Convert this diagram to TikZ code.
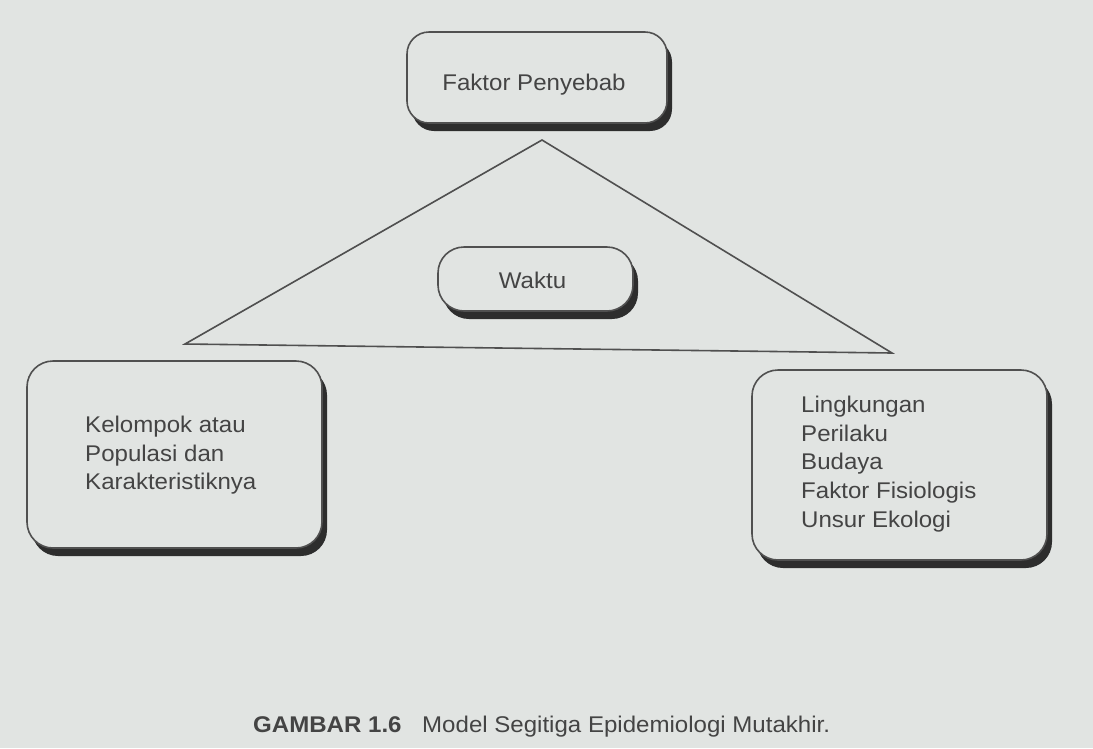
\documentclass[tikz,border=0pt]{standalone}
\usepackage{fontspec}
\setmainfont{Liberation Sans}[FakeStretch=1.06]
\usetikzlibrary{shadows}
\definecolor{bg}{RGB}{225,228,226}
\definecolor{ink}{RGB}{68,68,68}
\definecolor{shade}{RGB}{45,45,45}
\definecolor{edge}{RGB}{80,80,80}
\begin{document}
\begin{tikzpicture}[x=1pt,y=-1pt,
  box/.style={draw=edge, line width=1.6pt, fill=bg, rounded corners=22pt,
    drop shadow={shadow xshift=5pt, shadow yshift=-8pt, fill=shade, opacity=1},
    inner sep=0pt},
  txt/.style={text=ink, align=left, inner sep=0pt, font=\fontsize{22.7}{28.6}\selectfont},
  tri/.style={draw=edge, line width=1.6pt, line join=miter}]
\fill[bg] (0,0) rectangle (1093,748);
\useasboundingbox (0,0) rectangle (1093,748);
% triangle
\coordinate (apex) at (542,140);
\coordinate (bl) at (185,344);
\coordinate (br) at (892,353);
\draw[tri] (apex) -- (bl) -- (br) -- cycle;
% boxes
\node[box, minimum width=260pt, minimum height=91pt] (agent) at (537,77.5) {};
\node[txt, anchor=base] (agenttxt) at (534,90) {Faktor Penyebab};
\node[box, minimum width=195pt, minimum height=64pt, rounded corners=26pt] (time) at (535.5,279) {};
\node[txt, anchor=base] (timetxt) at (532.5,288) {Waktu};
\node[box, minimum width=295pt, minimum height=187pt, rounded corners=26pt] (host) at (174.5,454.5) {};
\node[box, minimum width=295pt, minimum height=190pt, rounded corners=26pt] (env) at (899.5,465) {};
\node[txt, anchor=west] (hosttxt) at (85,455.5) {Kelompok atau\\Populasi dan\\Karakteristiknya};
\node[txt, anchor=west] (envtxt) at (801,464) {Lingkungan\\Perilaku\\Budaya\\Faktor Fisiologis\\Unsur Ekologi};
% caption
\node[txt, anchor=base west, font=\fontsize{22.7}{28.6}\selectfont\bfseries] (fig) at (253,732) {GAMBAR 1.6};
\node[txt, anchor=base west] (cap) at (422,732) {Model Segitiga Epidemiologi Mutakhir.};
\end{tikzpicture}
\end{document}
